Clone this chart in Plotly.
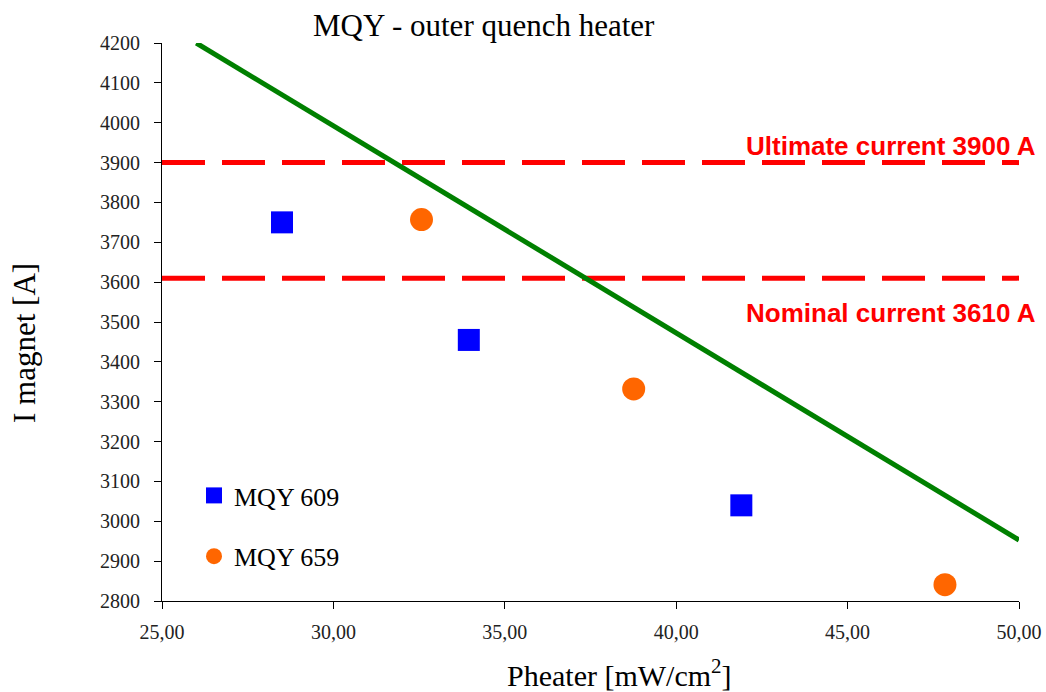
import plotly.graph_objects as go

# Data
mqy609_x = [28.5, 33.95, 41.9]
mqy609_y = [3750, 3455, 3040]
mqy659_x = [32.57, 38.76, 47.84]
mqy659_y = [3757, 3332, 2841]
limit_x = [26.0, 50.0]
limit_y = [4200, 2953]
ultimate_current = 3900
nominal_current = 3610
x_range = [25, 50]
y_range = [2800, 4200]
x_ticks = [25, 30, 35, 40, 45, 50]
x_tick_labels = ["25,00", "30,00", "35,00", "40,00", "45,00", "50,00"]
y_ticks = list(range(2800, 4201, 100))

serif = "Liberation Serif, Times New Roman, serif"
sans = "Liberation Sans, Arial, sans-serif"

L, R, T, B = 162, 27, 43, 91
W, H = 1046, 692
pw, ph = W - L - R, H - T - B


def px_x(px):
    return (px - L) / pw


def px_y(py):
    return (H - B - py) / ph


fig = go.Figure()

fig.add_trace(go.Scatter(x=x_range, y=[ultimate_current] * 2, mode="lines",
                         line=dict(color="#FF0000", width=5, dash="43px,17px"),
                         showlegend=False, hoverinfo="skip"))
fig.add_trace(go.Scatter(x=x_range, y=[nominal_current] * 2, mode="lines",
                         line=dict(color="#FF0000", width=5, dash="43px,17px"),
                         showlegend=False, hoverinfo="skip"))
fig.add_trace(go.Scatter(x=limit_x, y=limit_y, mode="lines",
                         line=dict(color="#008000", width=5),
                         showlegend=False))
fig.add_trace(go.Scatter(x=mqy609_x, y=mqy609_y, mode="markers", name="MQY 609",
                         legendgroup="a",
                         marker=dict(symbol="square", size=22, color="#0000FF")))
fig.add_trace(go.Scatter(x=mqy659_x, y=mqy659_y, mode="markers", name="MQY 659",
                         legendgroup="b",
                         marker=dict(symbol="circle", size=23, color="#FF6600")))

fig.update_layout(
    width=W, height=H,
    margin=dict(l=L, r=R, t=T, b=B, autoexpand=False),
    plot_bgcolor="white", paper_bgcolor="white",
    font=dict(family=serif, color="#000000"),
    showlegend=True,
    legend=dict(x=px_x(194), y=px_y(472), xanchor="left", yanchor="top",
                font=dict(family=serif, size=26, color="#000000"),
                bgcolor="rgba(0,0,0,0)", traceorder="grouped",
                tracegroupgap=24, itemsizing="trace"),
    xaxis=dict(range=x_range, tickvals=x_ticks, ticktext=x_tick_labels,
               showgrid=False, zeroline=False, showline=True, automargin=False,
               linecolor="black", linewidth=1, ticks="outside", ticklen=7,
               tickcolor="black", ticklabelstandoff=6,
               tickfont=dict(family=serif, size=20, color="#222")),
    yaxis=dict(range=y_range, tickvals=y_ticks,
               showgrid=False, zeroline=False, showline=True, automargin=False,
               linecolor="black", linewidth=1, ticks="outside", ticklen=7,
               tickcolor="black", ticklabelstandoff=10,
               tickfont=dict(family=serif, size=20, color="#222")),
)

fig.add_annotation(text="MQY - outer quench heater", xref="paper", yref="paper",
                   x=px_x(484), y=px_y(25), showarrow=False,
                   xanchor="center", yanchor="middle",
                   font=dict(family=serif, size=31, color="black"))
fig.add_annotation(text="I magnet [A]", xref="paper", yref="paper",
                   x=px_x(24), y=px_y(343), showarrow=False, textangle=-90,
                   xanchor="center", yanchor="middle",
                   font=dict(family=serif, size=31, color="black"))
fig.add_annotation(text="Pheater [mW/cm<sup>2</sup>]", xref="paper", yref="paper",
                   x=px_x(619), y=px_y(673), showarrow=False,
                   xanchor="center", yanchor="middle",
                   font=dict(family=serif, size=30, color="black"))
fig.add_annotation(text="<b>Ultimate current 3900 A</b>", xref="paper", yref="y",
                   x=1.0, xshift=19, y=ultimate_current, yshift=17, showarrow=False,
                   xanchor="right", yanchor="middle",
                   font=dict(family=sans, size=26, color="#FF0000"))
fig.add_annotation(text="<b>Nominal current 3610 A</b>", xref="paper", yref="y",
                   x=1.0, xshift=19, y=nominal_current, yshift=-35, showarrow=False,
                   xanchor="right", yanchor="middle",
                   font=dict(family=sans, size=26, color="#FF0000"))

fig.write_html("out.html")
